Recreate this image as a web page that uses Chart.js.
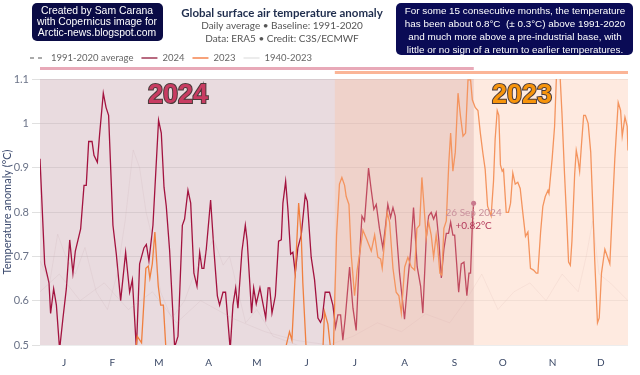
<!DOCTYPE html>
<html lang="en">
<head>
<meta charset="UTF-8">
<title>Global surface air temperature anomaly</title>
<script src="https://cdn.jsdelivr.net/npm/chart.js"></script>
<style>
  body { margin: 0; background: #fff; }
  #wrap { width: 640px; height: 375px; position: relative; }
</style>
</head>
<body>
<div id="wrap"><canvas id="chart"></canvas></div>
<script>
// day of year (0 = 1 Jan) and anomaly in °C
const days2024 = [0, 2.9, 5.6, 6.6, 8.5, 10.2, 12.2, 14.3, 16.4, 18.5, 20.5, 22, 25.3, 27.4, 28.8, 30.3, 32.4, 33.6, 35.7, 37.1, 39.4, 41.1, 42.7, 45.4, 47.5, 50.2, 53.3, 55.8, 57.5, 60, 62, 64.7, 66.2, 67.8, 70.3, 73.8, 75.5, 77.2, 78.6, 80.7, 83.8, 85.9, 88.6, 90, 92.1,
  93.8, 95.8, 97.7, 99.4, 100.8, 102, 103.5, 106.2, 108.3, 110.4, 111.8, 113.9, 115.5, 118.4, 120.1, 121.8, 123.2, 125.7, 127.8, 129, 131.7, 133, 134.6, 136.9, 138.8, 140.5, 142, 143, 144.4, 146.5, 148.5, 150.2, 151.2, 152.9, 154.3, 156, 157.4, 158.9, 160.5, 162.6, 165.1, 166.4, 168.8, 170.9, 173, 174.6, 175.7, 177.5, 180.2, 182.3, 184, 185.4,
  187.1, 188.5, 190, 192.7, 194.8, 196.8, 198.5, 200.4, 202, 204.5, 206.2, 207.8, 209.3, 211.3, 213.4, 214.9, 216.5, 218.2, 219.7, 221.1, 223.8, 226.9, 229, 230.7, 232.5, 234.8, 236.9, 238.3, 240.4, 241.9, 243.5, 245, 246.6, 248.3, 249.8, 251.4, 252.9, 254.3, 255.6, 257, 258.1, 260.6, 262.2, 263.9, 265.7, 267, 268, 269.1, 269.9];
const vals2024 = [0.92, 0.683, 0.64, 0.571, 0.627, 0.59, 0.49, 0.561, 0.627, 0.737, 0.662, 0.712, 0.762, 0.86, 0.86, 0.959, 0.959, 0.928, 0.912, 0.975, 1.068, 1.036, 1.018, 0.77, 0.705, 0.60, 0.709, 0.619, 0.647, 0.49, 0.683, 0.719, 0.727, 0.69, 0.77, 1.007, 0.978, 0.856, 0.813, 0.712, 0.495, 0.52, 0.77, 0.784, 0.849,
  0.82, 0.662, 0.633, 0.709, 0.673, 0.673, 0.716, 0.827, 0.712, 0.611, 0.59, 0.619, 0.619, 0.49, 0.59, 0.629, 0.583, 0.712, 0.77, 0.734, 0.572, 0.629, 0.593, 0.629, 0.593, 0.561, 0.629, 0.629, 0.572, 0.611, 0.734, 0.737, 0.82, 0.869, 0.806, 0.705, 0.709, 0.662, 0.719, 0.748, 0.838, 0.824, 0.698, 0.647, 0.561, 0.551, 0.561, 0.619, 0.619, 0.59, 0.54, 0.568,
  0.568, 0.511, 0.561, 0.676, 0.583, 0.533, 0.676, 0.791, 0.78, 0.899, 0.849, 0.806, 0.817, 0.763, 0.719, 0.763, 0.817, 0.788, 0.81, 0.791, 0.662, 0.558, 0.647, 0.712, 0.81, 0.676, 0.633, 0.572, 0.741, 0.791, 0.799, 0.784, 0.799, 0.734, 0.651, 0.716, 0.752, 0.752, 0.777, 0.748, 0.748, 0.619, 0.683, 0.687, 0.611, 0.662, 0.662, 0.77, 0.82];

const days2023 = [0, 30, 59.7, 60.5, 63.2, 65.9, 67.4, 68.4, 69.9, 71.5, 73.6, 75.1, 76.8, 78.4, 85, 120, 150, 155.3, 156.8, 158.9, 161, 162.6, 163.6, 165.7, 170, 176.1, 177.1, 179.2, 180.9, 182.5, 184.6,
  186.4, 187.9, 189.6, 190.6, 192.3, 193.7, 195.8, 197.4, 199.5, 201, 203.1, 206.2, 208.3, 210.3, 212, 213, 214.5, 216.1, 217.6, 219.7, 221.7, 223.4, 224.9, 227, 229, 231.1, 233.2, 234.6, 236.3, 237.7, 238.9, 240.4, 241.9, 243.5, 245, 246.6, 247.6, 248.9, 250.1, 251.4, 252.9, 254.5, 255.6, 257, 258.5, 260.2, 261.8, 263.3, 264.9, 266.4, 268, 269.1, 270.9, 272.6, 274.1, 275.7, 277.1, 278.6,
  280.8, 282.3, 283.3, 284.6, 285.6, 286.6, 287.7, 288.5, 290.2, 291.6, 292.9, 294.3, 295.8, 297.4, 298.9, 300.5, 302.2, 303.7, 305.3, 307.2, 308.9, 309.9, 311.6, 313, 314.5, 316.2, 316.8, 318.8, 320.3, 321.7, 323.4, 324.9, 326.5, 328, 329, 330.1, 331.1, 332.8, 333.8, 334.9, 335.9, 337, 338.4, 339.5, 341.2, 342.8, 344.3, 345.3, 347, 348.1, 349.5, 351.6, 353.3, 354.7, 356.2, 357.8, 359.9, 361.4, 362.4, 364.1, 365.5, 366];
const vals2023 = [0.40, 0.43, 0.49, 0.52, 0.505, 0.673, 0.678, 0.651, 0.683, 0.755, 0.633, 0.59, 0.59, 0.49, 0.44, 0.42, 0.45, 0.53, 0.511, 0.662, 0.82, 0.748, 0.64, 0.49, 0.45, 0.49, 0.575, 0.547, 0.49, 0.47, 0.748,
  0.863, 0.878, 0.86, 0.835, 0.817, 0.705, 0.611, 0.669, 0.719, 0.759, 0.741, 0.712, 0.748, 0.698, 0.694, 0.673, 0.734, 0.799, 0.777, 0.673, 0.619, 0.611, 0.572, 0.676, 0.698, 0.676, 0.669, 0.763, 0.77, 0.878, 0.82, 0.741, 0.777, 0.748, 0.698, 0.748, 0.719, 0.662, 0.658, 0.763, 0.78, 0.914, 0.978, 0.892, 0.935, 1.068, 1.014, 0.971, 0.978, 1.098, 1.098, 1.053, 1.036, 1.029, 0.978, 0.932, 0.896, 0.813,
  0.791, 0.87, 0.964, 1.029, 1.018, 0.906, 0.892, 0.896, 0.799, 0.799, 0.82, 0.888, 0.863, 0.867, 0.853, 0.799, 0.745, 0.755, 0.673, 0.669, 0.662, 0.662, 0.755, 0.813, 0.835, 0.849, 0.842, 0.921, 0.993, 1.13, 1.13, 1.022, 0.885, 0.77, 0.687, 0.68, 0.734, 0.885, 0.939, 0.918, 0.892, 0.95, 1.018, 1.018, 1.0, 0.935, 0.791, 0.69, 0.55, 0.561, 0.662, 0.716, 0.698, 0.683, 0.799, 0.921, 1.047, 1.029, 0.971, 1.014, 0.993, 0.939];

// two of the faint 1940-2023 lines
const daysFaintA = [0, 6, 11, 16, 22, 28, 35, 42, 48, 53, 58, 62, 66, 70, 75, 82, 90, 96, 102, 108, 114, 118, 122, 128, 135, 145, 160, 175, 190];
const valsFaintA = [0.69, 0.64, 0.75, 0.70, 0.66, 0.72, 0.62, 0.58, 0.66, 0.78, 0.94, 0.90, 0.80, 0.74, 0.62, 0.56, 0.60, 0.66, 0.70, 0.74, 0.68, 0.70, 0.64, 0.55, 0.58, 0.52, 0.50, 0.47, 0.49];
const daysFaintB = [0, 12, 25, 40, 55, 70, 85, 100, 120, 140, 160, 180, 195, 210, 225, 240, 255, 265, 275, 285, 295, 305, 315, 325, 335, 340, 344, 348, 355, 366];
const valsFaintB = [0.62, 0.66, 0.60, 0.64, 0.58, 0.62, 0.55, 0.60, 0.56, 0.53, 0.51, 0.50, 0.52, 0.55, 0.53, 0.57, 0.55, 0.60, 0.66, 0.58, 0.62, 0.64, 0.60, 0.66, 0.62, 0.70, 0.78, 0.66, 0.64, 0.60];

const monthDays = [15, 45, 74, 105, 135, 166, 196, 227, 258, 288, 319, 349];
const monthLabels = ['J', 'F', 'M', 'A', 'M', 'J', 'J', 'A', 'S', 'O', 'N', 'D'];

const band2024 = [0, 270];
const band2023 = [183.5, 366];
const lastPoint = { day: 269.9, value: 0.82, date: '26 Sep 2024', label: '+0.82°C' };

const legendItems = [
  { text: '1991-2020 average', color: '#aaa', dash: [4, 4] },
  { text: '2024', color: '#b86a80', dash: [] },
  { text: '2023', color: '#f7a27a', dash: [] },
  { text: '1940-2023', color: '#ececec', dash: [] }
];

const toXY = (xs, ys) => xs.map((d, i) => ({ x: d, y: ys[i] }));

function roundRect(ctx, x, y, w, h, r) {
  ctx.beginPath();
  ctx.moveTo(x + r, y);
  ctx.arcTo(x + w, y, x + w, y + h, r);
  ctx.arcTo(x + w, y + h, x, y + h, r);
  ctx.arcTo(x, y + h, x, y, r);
  ctx.arcTo(x, y, x + w, y, r);
  ctx.closePath();
}

const decor = {
  id: 'decor',
  beforeDraw(chart) {
    const { ctx, chartArea: a, scales: { x } } = chart;
    ctx.save();
    ctx.fillStyle = 'rgb(233,219,223)';
    const x0 = x.getPixelForValue(band2024[0]), x1 = x.getPixelForValue(band2024[1]);
    ctx.fillRect(x0, a.top, x1 - x0, a.bottom - a.top);
    ctx.restore();
  },
  afterDatasetsDraw(chart) {
    const { ctx, chartArea: a, scales: { x, y } } = chart;
    ctx.save();
    const x0 = x.getPixelForValue(band2023[0]), x1 = x.getPixelForValue(band2023[1]);
    ctx.fillStyle = 'rgba(252,190,160,0.33)';
    ctx.fillRect(x0, a.top, x1 - x0, a.bottom - a.top);

    // big year labels
    ctx.font = 'bold 27px "Liberation Sans", Arial, sans-serif';
    ctx.textAlign = 'center';
    ctx.textBaseline = 'middle';
    ctx.lineWidth = 2;
    ctx.strokeStyle = '#4a3a3a';
    ctx.strokeText('2024', 178, 96);
    ctx.fillStyle = '#c83c62';
    ctx.fillText('2024', 178, 96);
    ctx.strokeText('2023', 522, 96);
    ctx.fillStyle = '#f7940c';
    ctx.fillText('2023', 522, 96);

    // latest value marker
    const px = x.getPixelForValue(lastPoint.day), py = y.getPixelForValue(lastPoint.value);
    ctx.strokeStyle = '#c98797';
    ctx.lineWidth = 1;
    ctx.setLineDash([1, 2]);
    ctx.beginPath();
    ctx.moveTo(px, py);
    ctx.lineTo(px, py + 22);
    ctx.stroke();
    ctx.setLineDash([]);
    ctx.fillStyle = '#c97a8e';
    ctx.beginPath();
    ctx.arc(px, py, 2.5, 0, Math.PI * 2);
    ctx.fill();
    ctx.font = '10px Lato';
    ctx.fillStyle = '#c9909c';
    ctx.fillText(lastPoint.date, px, py + 10);
    ctx.fillStyle = '#b3395a';
    ctx.fillText(lastPoint.label, px, py + 23);
    ctx.restore();
  },
  afterDraw(chart) {
    const { ctx, chartArea: a, scales: { x } } = chart;
    ctx.save();
    // range bars above the plot
    ctx.fillStyle = '#e8a9b8';
    let b0 = x.getPixelForValue(band2024[0]), b1 = x.getPixelForValue(band2024[1]);
    ctx.fillRect(b0, a.top - 12, b1 - b0, 3);
    ctx.fillStyle = '#fbb597';
    b0 = x.getPixelForValue(band2023[0]); b1 = x.getPixelForValue(band2023[1]);
    ctx.fillRect(b0, a.top - 8, b1 - b0, 3);

    // legend
    ctx.font = '9.5px Lato';
    ctx.textBaseline = 'middle';
    ctx.textAlign = 'left';
    let lx = 30;
    const ly = 58;
    legendItems.forEach(item => {
      ctx.strokeStyle = item.color;
      ctx.lineWidth = 2;
      ctx.setLineDash(item.dash);
      ctx.beginPath();
      ctx.moveTo(lx, ly);
      ctx.lineTo(lx + 16, ly);
      ctx.stroke();
      ctx.setLineDash([]);
      ctx.fillStyle = '#666';
      ctx.fillText(item.text, lx + 21, ly);
      lx += 21 + ctx.measureText(item.text).width + 8;
    });

    // title block
    ctx.textAlign = 'center';
    ctx.fillStyle = '#1f2d4d';
    ctx.font = 'bold 11.5px Lato';
    ctx.fillText('Global surface air temperature anomaly', 282, 13);
    ctx.fillStyle = '#555';
    ctx.font = '10px Lato';
    ctx.fillText('Daily average \u2022 Baseline: 1991-2020', 282, 26);
    ctx.fillText('Data: ERA5 \u2022 Credit: C3S/ECMWF', 282, 39);

    // note boxes
    ctx.fillStyle = '#0a0b45';
    roundRect(ctx, 32, 3, 131, 38, 5);
    ctx.fill();
    ctx.fillStyle = '#fff';
    ctx.font = '10.4px "Liberation Sans", Arial, sans-serif';
    ['Created by Sam Carana', 'with Copernicus image for', 'Arctic-news.blogspot.com']
      .forEach((t, i) => ctx.fillText(t, 97, 11 + i * 11.3));

    ctx.fillStyle = '#0a0b55';
    roundRect(ctx, 396, 3, 237, 52, 5);
    ctx.fill();
    ctx.fillStyle = '#fff';
    ctx.font = '9.9px "Liberation Sans", Arial, sans-serif';
    ['For some 15 consecutive months, the temperature',
     'has been about 0.8°C  (± 0.3°C) above 1991-2020',
     'and much more above a pre-industrial base, with',
     'little or no sign of a return to earlier temperatures.']
      .forEach((t, i) => ctx.fillText(t, 515, 11.5 + i * 12.9));
    ctx.restore();
  }
};

const faintStyle = { borderColor: 'rgba(190,160,170,0.16)', borderWidth: 1 };

new Chart(document.getElementById('chart'), {
  type: 'line',
  data: {
    datasets: [
      { label: '1940-2023', data: toXY(daysFaintA, valsFaintA), ...faintStyle },
      { label: '1940-2023', data: toXY(daysFaintB, valsFaintB), ...faintStyle },
      { label: '2023', data: toXY(days2023, vals2023), borderColor: '#f07f3e', borderWidth: 1.3 },
      { label: '2024', data: toXY(days2024, vals2024), borderColor: '#a3133f', borderWidth: 1.3 }
    ]
  },
  options: {
    responsive: true,
    maintainAspectRatio: false,
    animation: false,
    events: [],
    elements: { point: { radius: 0 }, line: { tension: 0 } },
    layout: { padding: { top: 79, right: 12, left: 0, bottom: 2 } },
    plugins: { legend: { display: false }, tooltip: { enabled: false } },
    scales: {
      x: {
        type: 'linear',
        min: 0,
        max: 366,
        afterBuildTicks: s => { s.ticks = monthDays.map(v => ({ value: v })); },
        ticks: {
          autoSkip: false,
          maxRotation: 0,
          padding: 4,
          color: '#3a4866',
          font: { family: 'Lato', size: 10 },
          callback: (v) => monthLabels[monthDays.indexOf(v)]
        },
        grid: { display: false },
        border: { display: false }
      },
      y: {
        min: 0.5,
        max: 1.1,
        afterFit: s => { s.width = 40; },
        ticks: {
          stepSize: 0.1,
          padding: 3,
          color: '#6b7388',
          font: { family: 'Lato', size: 11 },
          callback: v => String(Number(v.toFixed(1)))
        },
        grid: { color: 'rgba(0,0,0,0.07)', tickLength: 8, tickColor: 'rgba(0,0,0,0.12)' },
        border: { display: false },
        title: {
          display: true,
          text: 'Temperature anomaly (°C)',
          color: '#3c4a6e',
          padding: { top: 1, bottom: 1 },
          font: { family: 'Lato', size: 11 }
        }
      }
    }
  },
  plugins: [decor]
});
</script>
</body>
</html>
